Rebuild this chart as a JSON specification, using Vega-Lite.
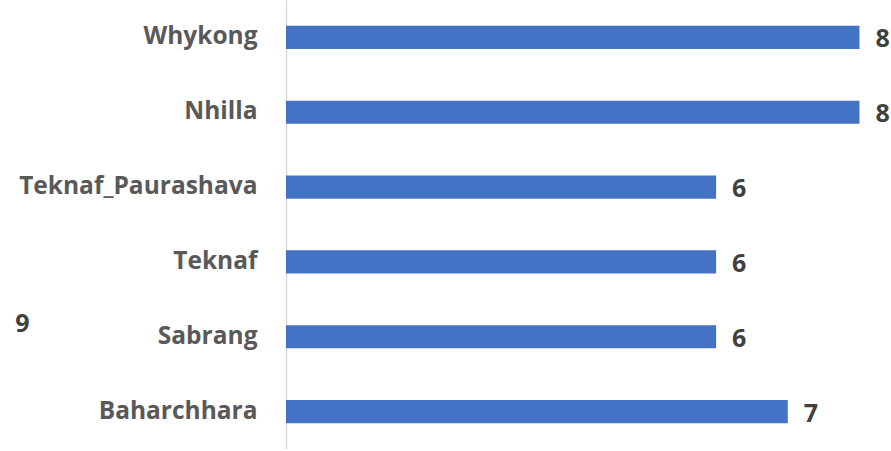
{
  "$schema": "https://vega.github.io/schema/vega-lite/v6.json",
  "autosize": "none",
  "padding": {"left": 286, "top": 0, "right": 0, "bottom": 0},
  "width": 605,
  "height": 449,
  "background": "white",
  "data": {"values": [
    {"union": "Whykong", "value": 8},
    {"union": "Nhilla", "value": 8},
    {"union": "Teknaf_Paurashava", "value": 6},
    {"union": "Teknaf", "value": 6},
    {"union": "Sabrang", "value": 6},
    {"union": "Baharchhara", "value": 7}
  ]},
  "encoding": {
    "y": {"field": "union", "type": "nominal", "sort": null,
      "scale": {"paddingInner": 0.69, "paddingOuter": 0.345},
      "axis": {"title": "9", "titleAngle": 0, "titleX": -264, "titleY": 323, "titleAlign": "center", "titleBaseline": "middle",
        "titleFont": "Open Sans", "titleFontSize": 25, "titleFontWeight": "bold", "titleColor": "#404040",
        "labelFont": "Open Sans", "labelFontSize": 24.5, "labelFontWeight": "bold", "labelColor": "#595959", "labelLimit": 300,
        "labelPadding": 29, "ticks": false, "domainColor": "#d9d9d9", "domainWidth": 1.5, "grid": false}},
    "x": {"field": "value", "type": "quantitative", "scale": {"domain": [0, 8.44], "nice": false}, "axis": null}
  },
  "layer": [
    {"mark": {"type": "bar", "color": "#4472C4"}},
    {"mark": {"type": "text", "align": "left", "baseline": "middle", "dx": 16, "dy": 2, "font": "Open Sans", "fontSize": 25, "fontWeight": "bold", "color": "#404040"},
     "encoding": {"text": {"field": "value", "type": "quantitative"}}}
  ],
  "config": {"view": {"stroke": null}}
}
